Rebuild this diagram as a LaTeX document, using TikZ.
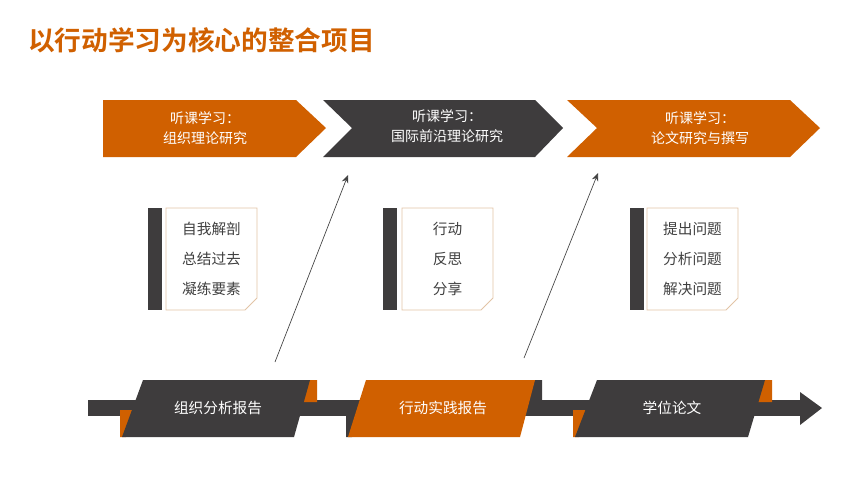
\documentclass[tikz,border=0pt]{standalone}
\usepackage{fontspec}
\newfontfamily\cjk{Noto Sans CJK SC}
\newfontfamily\cjkb{Noto Sans CJK SC Bold}
\usetikzlibrary{arrows.meta}
\definecolor{org}{HTML}{D06000}
\definecolor{drk}{HTML}{3E3C3D}
\definecolor{txt}{HTML}{404040}
\definecolor{brd}{HTML}{E2C4A6}
\tikzset{
 ctext/.style={text=white,font=\cjk\fontsize{10.5}{15}\selectfont,align=center},
 ntext/.style={text=txt,font=\cjk\fontsize{11}{22.5}\selectfont,align=center},
 btext/.style={text=white,font=\cjk\fontsize{11}{14}\selectfont},
 note/.style={draw=brd,fill=white,line width=0.6pt},
 link/.style={draw=txt,line width=0.5pt,-{Stealth[length=6pt,width=5pt]}}
}
\begin{document}
\begin{tikzpicture}[x=0.75pt,y=-0.75pt]
\useasboundingbox (0,0) rectangle (848,487);
\node[anchor=west,text=org,font=\cjkb\fontsize{20}{24}\selectfont,inner sep=0] (title) at (28,40) {以行动学习为核心的整合项目};
% chevrons
\fill[org] (103,100)--(296,100)--(326,128)--(296,157)--(103,157)--cycle;
\fill[drk] (323,100)--(535,100)--(563,128)--(535,157)--(323,157)--(352,128)--cycle;
\fill[org] (567,100)--(790,100)--(820,128)--(790,157)--(567,157)--(597,128)--cycle;
\node[ctext] (c1) at (205,128) {听课学习：\\组织理论研究};
\node[ctext] (c2) at (447,126) {听课学习：\\国际前沿理论研究};
\node[ctext] (c3) at (700,128) {听课学习：\\论文研究与撰写};
% notes
\foreach \bx/\nx in {148/166,383/402,630/647}{
 \fill[drk] (\bx,208) rectangle (\bx+14,310);
 \draw[note] (\nx,208)--(\nx+91,208)--(\nx+91,298)--(\nx+79,310)--(\nx,310)--cycle;
}
\node[ntext] (n1) at (211.5,259) {自我解剖\\总结过去\\凝练要素};
\node[ntext] (n2) at (447.5,259) {行动\\反思\\分享};
\node[ntext] (n3) at (692.5,259) {提出问题\\分析问题\\解决问题};
% bottom bar
\fill[drk] (88,400) rectangle (800,416);
\fill[drk] (800,392)--(822,408)--(800,425)--cycle;
% block1
\fill[org] (120,410)--(136,410)--(126,437)--(120,437)--cycle;
\fill[org] (305,380)--(317,380)--(317,402)--(297,402)--cycle;
\fill[drk] (143,380)--(310,380)--(294,437)--(122,437)--cycle;
% block2
\fill[drk] (346,410)--(362,410)--(352,437)--(346,437)--cycle;
\fill[drk] (530,380)--(542,380)--(542,402)--(522,402)--cycle;
\fill[org] (366,380)--(535,380)--(520,437)--(348,437)--cycle;
% block3
\fill[org] (573,410)--(589,410)--(579,437)--(573,437)--cycle;
\fill[org] (760,380)--(772,380)--(772,402)--(752,402)--cycle;
\fill[drk] (597,380)--(765,380)--(748,437)--(575,437)--cycle;
\node[btext] (b1) at (218,408) {组织分析报告};
\node[btext] (b2) at (443,408) {行动实践报告};
\node[btext] (b3) at (672,408) {学位论文};
% links
\coordinate (s1) at (275,362); \coordinate (e1) at (348,175);
\coordinate (s2) at (524,358); \coordinate (e2) at (598,173);
\draw[link] (s1)--(e1);
\draw[link] (s2)--(e2);
\end{tikzpicture}
\end{document}
